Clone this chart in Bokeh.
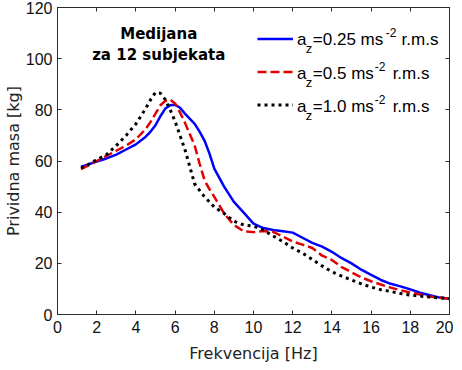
from bokeh.plotting import figure
from bokeh.models import LinearAxis, Label, Legend, LegendItem, FixedTicker
from bokeh.embed import file_html
from bokeh.resources import INLINE

# ---------------- data ----------------
freq = [1.2, 1.5, 2, 2.5, 3, 3.5, 4, 4.5, 4.75, 5, 5.25, 5.5, 5.75, 6, 6.25, 6.5,
        7, 7.25, 7.5, 7.75, 8, 8.5, 9, 9.5, 10, 10.5, 11, 11.5, 12, 12.5, 13, 13.5,
        14, 14.5, 15, 15.5, 16, 16.5, 17, 17.5, 18, 18.5, 19, 19.5, 20]
m_025 = [57.8, 58.5, 59.8, 61.0, 62.5, 64.5, 66.5, 69.5, 71.5, 74.0, 77.5, 80.5, 81.8, 82.0, 80.8, 78.5,
         74.5, 71.5, 68.0, 63.0, 57.0, 50.0, 44.0, 39.8, 35.5, 33.8, 33.0, 32.5, 32.0, 30.0, 28.0, 26.5,
         24.5, 22.0, 20.0, 17.5, 15.5, 13.5, 12.0, 11.0, 9.8, 8.5, 7.5, 6.6, 6.2]
m_05 = [56.8, 58.0, 60.0, 62.0, 64.0, 66.0, 68.5, 72.5, 75.3, 78.5, 81.8, 83.5, 84.0, 82.5, 79.0, 75.0,
        66.0, 59.0, 52.5, 49.0, 46.0, 39.5, 35.0, 32.5, 32.2, 32.6, 32.3, 30.5, 28.5, 27.3, 26.0, 23.0,
        21.3, 18.5, 16.5, 14.5, 13.0, 11.7, 10.5, 9.5, 8.6, 7.8, 7.0, 6.5, 6.2]
m_10 = [57.2, 58.3, 60.5, 62.5, 66.0, 70.0, 74.5, 80.5, 84.0, 86.8, 86.5, 84.0, 80.0, 75.5, 70.0, 64.5,
        51.0, 48.5, 46.0, 44.0, 42.0, 39.5, 36.5, 35.0, 34.5, 33.0, 30.7, 28.5, 26.0, 24.0, 21.5, 19.0,
        16.7, 15.0, 13.5, 12.0, 10.7, 9.7, 9.0, 8.2, 7.6, 7.2, 6.8, 6.5, 6.2]

x_ticks = [0, 2, 4, 6, 8, 10, 12, 14, 16, 18, 20]
y_ticks = [0, 20, 40, 60, 80, 100, 120]
legend_values = ["0.25", "0.5", "1.0"]
title_lines = ["Medijana", "za 12 subjekata"]
x_label = "Frekvencija [Hz]"
y_label = "Prividna masa [kg]"

# ---------------- styles ----------------
AX = "#2b2b2b"
TICK_FONT = "Liberation Sans"
LAB_FONT = "DejaVu Sans"
LEG_FONT = "Liberation Sans"

p = figure(width=453, height=366, x_range=(0, 20), y_range=(0, 120),
           output_backend="svg", toolbar_location=None,
           min_border_left=49, min_border_right=4, min_border_top=7, min_border_bottom=52)
p.xgrid.visible = False
p.ygrid.visible = False
p.outline_line_color = AX
p.background_fill_color = "white"
p.border_fill_color = "white"

for ax, ticks in ((p.xaxis[0], x_ticks), (p.yaxis[0], y_ticks)):
    ax.ticker = FixedTicker(ticks=ticks)
    ax.major_tick_in = 4
    ax.major_tick_out = 0
    ax.minor_tick_line_color = None
    ax.axis_line_color = AX
    ax.major_tick_line_color = AX
    ax.major_label_text_font = TICK_FONT
    ax.major_label_text_font_size = "16px"
    ax.major_label_text_color = "#111111"
    ax.axis_label_text_font = LAB_FONT
    ax.axis_label_text_font_size = "16px"
    ax.axis_label_text_font_style = "normal"
    ax.axis_label_text_color = "#222222"

p.xaxis[0].axis_label = x_label
p.xaxis[0].major_label_standoff = 6
p.xaxis[0].axis_label_standoff = 8
p.yaxis[0].axis_label = y_label
p.yaxis[0].major_label_standoff = 5
p.yaxis[0].axis_label_standoff = 0

# mirrored ticks on top and right (labels hidden)
for side, ticks in (("above", x_ticks), ("right", y_ticks)):
    ax = LinearAxis(ticker=FixedTicker(ticks=ticks), major_tick_in=4, major_tick_out=0,
                    minor_tick_line_color=None, axis_line_color=AX, major_tick_line_color=AX,
                    major_label_text_font_size="1px", major_label_text_color=None,
                    major_label_standoff=0)
    p.add_layout(ax, side)

r1 = p.line(freq, m_025, line_color="#0000ff", line_width=2.5)
r2 = p.line(freq, m_05, line_color="#e00000", line_width=2.5, line_dash="9 4")
r3 = p.line(freq, m_10, line_color="#000000", line_width=3, line_dash="3 4")

# legend swatches (library legend), text drawn with sub/superscripts
leg = Legend(items=[LegendItem(label=" ", renderers=[r]) for r in (r1, r2, r3)],
             location=(200, 199), glyph_width=36, glyph_height=21, spacing=12,
             padding=0, margin=0, label_standoff=0, label_text_font_size="8px",
             label_text_color=None,
             background_fill_alpha=0, border_line_alpha=0)
p.add_layout(leg)

# reference pixel -> data helpers for annotation layout
def dx(px):
    return (px - 57) / 19.65

def dy(py):
    return (314 - py) / 2.533

row_base = [42, 75, 108.3]
for val, base in zip(legend_values, row_base):
    main = "=" + val + " ms"
    p.add_layout(Label(x=dx(297), y=dy(base), text="a", text_font=LEG_FONT,
                       text_font_size="17px", text_baseline="alphabetic", text_color="black"))
    p.add_layout(Label(x=dx(306), y=dy(base + 9), text="z", text_font=LEG_FONT,
                       text_font_size="13px", text_baseline="alphabetic", text_color="black"))
    p.add_layout(Label(x=dx(313), y=dy(base), text=main, text_font=LEG_FONT,
                       text_font_size="17px", text_baseline="alphabetic", text_color="black"))
    sup_x = 386 if val == "0.25" else 375
    rms_x = 402 if val == "0.25" else 393
    p.add_layout(Label(x=dx(sup_x), y=dy(base - 7), text="-2", text_font=LEG_FONT,
                       text_font_size="12px", text_baseline="alphabetic", text_color="black"))
    p.add_layout(Label(x=dx(rms_x), y=dy(base), text="r.m.s", text_font=LEG_FONT,
                       text_font_size="17px", text_baseline="alphabetic", text_color="black"))

for line, py in zip(title_lines, (36, 57)):
    p.add_layout(Label(x=dx(158.5), y=dy(py), text=line, text_font=LAB_FONT,
                       text_font_size="15px", text_font_style="bold", text_align="center",
                       text_baseline="middle", text_color="black"))

open("out.html", "w").write(file_html(p, INLINE))
